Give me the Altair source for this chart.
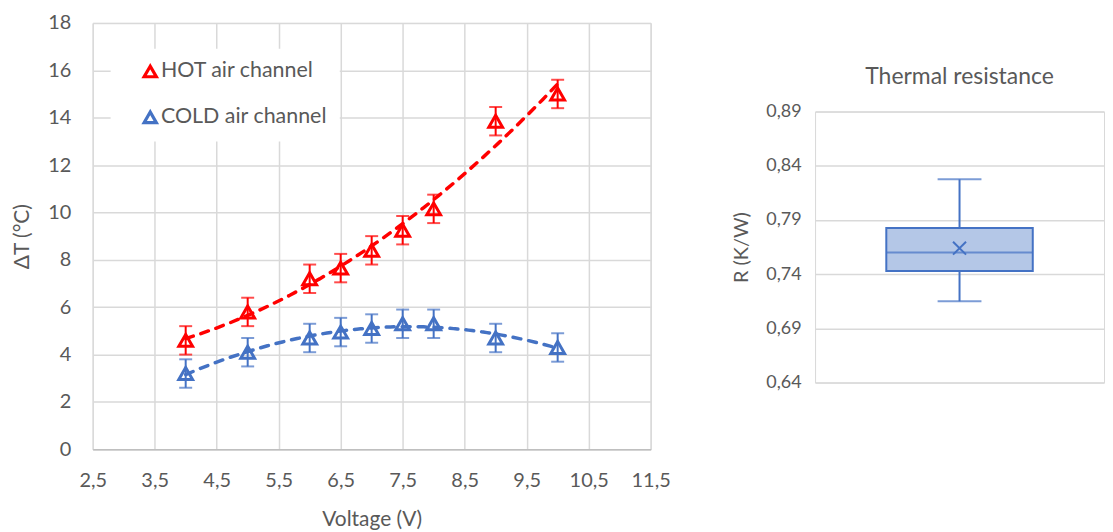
import altair as alt
import pandas as pd

# ---- Left chart data: temperature difference vs voltage ----
voltage = [4, 5, 6, 6.5, 7, 7.5, 8, 9, 10]
hot_dt = [4.6, 5.8, 7.2, 7.65, 8.4, 9.25, 10.15, 13.85, 15.0]
hot_err = [0.6, 0.6, 0.6, 0.6, 0.6, 0.6, 0.6, 0.6, 0.6]
cold_dt = [3.2, 4.1, 4.7, 4.95, 5.1, 5.3, 5.3, 4.7, 4.3]
cold_err = [0.6, 0.6, 0.6, 0.6, 0.6, 0.6, 0.6, 0.6, 0.6]
series_names = ["HOT air channel", "COLD air channel"]
series_colors = ["#FF0000", "#4472C4"]
x_ticks = [2.5, 3.5, 4.5, 5.5, 6.5, 7.5, 8.5, 9.5, 10.5, 11.5]
y_ticks = [0, 2, 4, 6, 8, 10, 12, 14, 16, 18]

# ---- Right chart data: thermal resistance box plot summary ----
r_category = ["R"]
r_min = [0.715]
r_q1 = [0.743]
r_median = [0.760]
r_q3 = [0.7825]
r_max = [0.8275]
r_mean = [0.764]
r_ticks = [0.64, 0.69, 0.74, 0.79, 0.84, 0.89]

TEXT = "#595959"
GRID = "#d9d9d9"
FONT = "Lato"

df = pd.concat([
    pd.DataFrame({"series": series_names[0], "voltage": voltage, "dt": hot_dt, "err": hot_err}),
    pd.DataFrame({"series": series_names[1], "voltage": voltage, "dt": cold_dt, "err": cold_err}),
], ignore_index=True)

color_scale = alt.Scale(domain=series_names, range=series_colors)
legend = alt.Legend(
    title=None, orient="none", legendX=18, legendY=26,
    fillColor="white", padding=12,
    labelFontSize=21.5, labelColor=TEXT, labelFont=FONT, labelLimit=400,
    symbolType="triangle-up", symbolStrokeWidth=3.2, symbolSize=150,
    symbolFillColor="white", symbolOpacity=1,
    symbolOffset=17, labelOffset=0, rowPadding=22,
)

x_enc = alt.X(
    "voltage:Q",
    scale=alt.Scale(domain=[2.5, 11.5], nice=False, zero=False),
    axis=alt.Axis(
        values=x_ticks,
        labelExpr="replace(format(datum.value, '.1f'), '.', ',')",
        title="Voltage (V)",
        grid=True, ticks=False, labelFlush=False,
        domainColor="#bfbfbf", domainWidth=1.5,
        labelPadding=21, titlePadding=18,
        labelFontSize=20, titleFontSize=21,
    ),
)
y_scale = alt.Scale(domain=[0, 18], nice=False)
y_axis = alt.Axis(
    values=y_ticks, title="ΔT (°C)", grid=True, ticks=False, domain=False, labelFlush=False,
    labelPadding=22, titlePadding=15, labelFontSize=20, titleFontSize=21,
)

base = alt.Chart(df).encode(x=x_enc)
color_enc = alt.Color("series:N", scale=color_scale, legend=None)

trend = base.transform_regression(
    "voltage", "dt", method="poly", order=2, groupby=["series"]
).mark_line(strokeDash=[8, 8], strokeWidth=3.5, strokeCap="round").encode(
    x=alt.X("voltage:Q"),
    y=alt.Y("dt:Q", scale=y_scale, axis=y_axis),
    color=color_enc,
)

err_base = base.transform_calculate(lo="datum.dt - datum.err", hi="datum.dt + datum.err")
err_rule = err_base.mark_rule(strokeWidth=2).encode(y=alt.Y("lo:Q"), y2="hi:Q", color=color_enc)
cap_lo = err_base.mark_tick(orient="horizontal", size=13, thickness=2).encode(y="lo:Q", color=color_enc)
cap_hi = err_base.mark_tick(orient="horizontal", size=13, thickness=2).encode(y="hi:Q", color=color_enc)

points = base.transform_calculate(channel="datum.series").mark_point(
    shape="triangle-up", filled=False, size=190, strokeWidth=3, opacity=1
).encode(
    y=alt.Y("dt:Q"),
    stroke=alt.Stroke("channel:N", scale=alt.Scale(domain=series_names, range=series_colors), legend=legend),
)

left = alt.layer(trend, err_rule, cap_lo, cap_hi, points).resolve_scale(
    color="independent", stroke="independent"
).resolve_legend(color="independent", stroke="independent").properties(width=560, height=428)

# ---- Right chart ----
df_r = pd.DataFrame({
    "cat": r_category, "lo": r_min, "q1": r_q1, "med": r_median,
    "q3": r_q3, "hi": r_max, "mean": r_mean,
})
BOX = "#4472C4"
r_y_scale = alt.Scale(domain=[0.64, 0.89], nice=False, zero=False)
r_base = alt.Chart(df_r).encode(x=alt.X("cat:N", axis=None))

whisker = r_base.mark_rule(color=BOX, strokeWidth=2).encode(
    y=alt.Y("lo:Q", scale=r_y_scale, axis=alt.Axis(
        values=r_ticks, labelExpr="replace(format(datum.value, '.2f'), '.', ',')",
        title="R (K/W)", grid=True, ticks=False, domain=False, labelFlush=False,
        labelPadding=14, titlePadding=14, labelFontSize=18, titleFontSize=20,
    )),
    y2="hi:Q",
)
box = r_base.mark_bar(size=147, fill="#B4C7E7", stroke=BOX, strokeWidth=2).encode(y="q1:Q", y2="q3:Q")
median = r_base.mark_tick(orient="horizontal", size=147, thickness=2, color=BOX).encode(y="med:Q")
cap_min = r_base.mark_tick(orient="horizontal", size=44, thickness=2, color=BOX).encode(y="lo:Q")
cap_max = r_base.mark_tick(orient="horizontal", size=44, thickness=2, color=BOX).encode(y="hi:Q")
mean = r_base.mark_point(shape="M-1,-1L1,1M-1,1L1,-1", filled=False, size=170, strokeWidth=2, color=BOX, opacity=1).encode(y="mean:Q")

right = alt.layer(whisker, box, median, cap_min, cap_max, mean).properties(
    width=290, height=272,
    title=alt.Title("Thermal resistance", fontSize=23, color=TEXT, font=FONT,
                    fontWeight="normal", offset=14),
)

spacer = alt.Chart(pd.DataFrame({"v": [0]})).mark_point(opacity=0).encode(
    x=alt.X("v:Q", axis=None), y=alt.Y("v:Q", axis=None)
).properties(width=290, height=27, view=alt.ViewBackground(stroke="transparent"))

right_col = alt.vconcat(spacer, right, spacing=14)

chart = alt.hconcat(left, right_col, spacing=60).properties(
    padding={"left": 3, "top": 3, "right": 0, "bottom": 0}
).configure_view(stroke=GRID).configure_axis(
    labelFont=FONT, titleFont=FONT, labelColor=TEXT, titleColor=TEXT,
    titleFontWeight="normal", gridColor=GRID, gridWidth=1.5,
)

chart.save("out.html", embed_options={"renderer": "svg", "actions": False})
